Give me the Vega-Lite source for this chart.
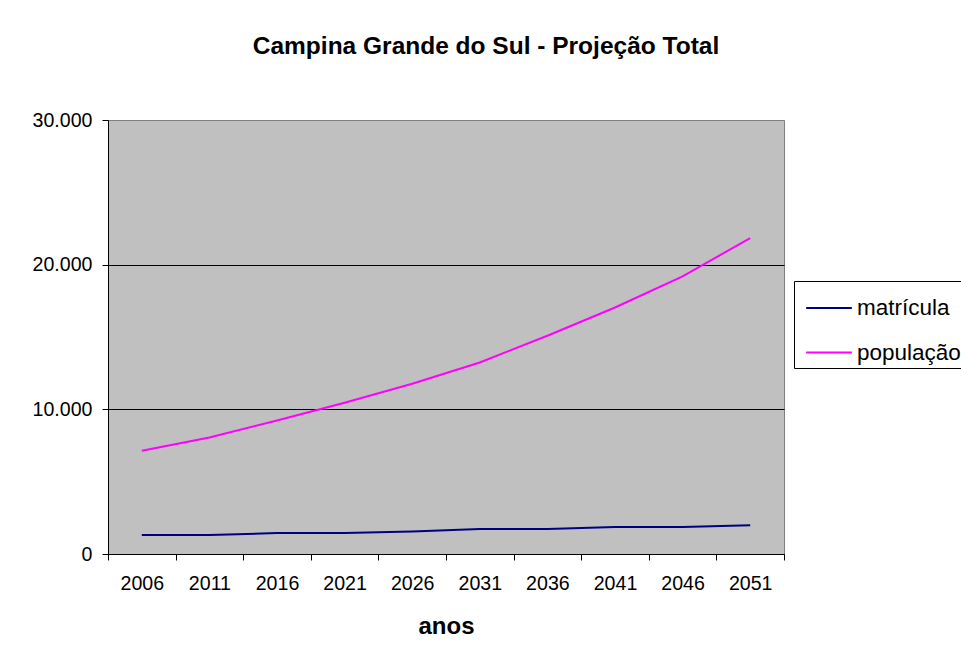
{
  "$schema": "https://vega.github.io/schema/vega-lite/v6.json",
  "autosize": {"type": "none"},
  "padding": {"left": 108, "top": 120, "right": 177, "bottom": 105},
  "width": 676,
  "height": 434,
  "background": "white",
  "title": {
    "text": "Campina Grande do Sul - Projeção Total",
    "font": "Liberation Sans",
    "fontSize": 24.5,
    "fontWeight": "bold",
    "color": "black",
    "anchor": "middle",
    "frame": "group",
    "baseline": "alphabetic",
    "dx": 40,
    "offset": 32
  },
  "data": {
    "values": [
      {"ano": "2006", "serie": "matrícula", "valor": 1310},
      {"ano": "2011", "serie": "matrícula", "valor": 1310},
      {"ano": "2016", "serie": "matrícula", "valor": 1450},
      {"ano": "2021", "serie": "matrícula", "valor": 1450},
      {"ano": "2026", "serie": "matrícula", "valor": 1560},
      {"ano": "2031", "serie": "matrícula", "valor": 1730},
      {"ano": "2036", "serie": "matrícula", "valor": 1730},
      {"ano": "2041", "serie": "matrícula", "valor": 1870},
      {"ano": "2046", "serie": "matrícula", "valor": 1870},
      {"ano": "2051", "serie": "matrícula", "valor": 1980},
      {"ano": "2006", "serie": "população", "valor": 7140},
      {"ano": "2011", "serie": "população", "valor": 8060},
      {"ano": "2016", "serie": "população", "valor": 9230},
      {"ano": "2021", "serie": "população", "valor": 10450},
      {"ano": "2026", "serie": "população", "valor": 11770},
      {"ano": "2031", "serie": "população", "valor": 13240},
      {"ano": "2036", "serie": "população", "valor": 15090},
      {"ano": "2041", "serie": "população", "valor": 17040},
      {"ano": "2046", "serie": "população", "valor": 19190},
      {"ano": "2051", "serie": "população", "valor": 21840}
    ]
  },
  "mark": {"type": "line", "strokeWidth": 2},
  "encoding": {
    "x": {
      "field": "ano",
      "type": "ordinal",
      "bandPosition": 0.5,
      "scale": {"type": "band", "paddingInner": 0, "paddingOuter": 0},
      "axis": {
        "title": "anos",
        "labelAngle": 0,
        "tickBand": "extent",
        "tickSize": 6,
        "labelPadding": 14,
        "domainColor": "black",
        "tickColor": "black",
        "labelColor": "black",
        "labelFont": "Liberation Sans",
        "labelFontSize": 19.6,
        "titleFont": "Liberation Sans",
        "titleFontSize": 24,
        "titleFontWeight": "bold",
        "titleColor": "black",
        "titlePadding": 22,
        "grid": false
      }
    },
    "y": {
      "field": "valor",
      "type": "quantitative",
      "scale": {"domain": [0, 30000]},
      "axis": {
        "title": null,
        "values": [0, 10000, 20000, 30000],
        "labelExpr": "replace(format(datum.value, ','), ',', '.')",
        "tickSize": 6,
        "labelPadding": 10,
        "domainColor": "black",
        "tickColor": "black",
        "labelColor": "black",
        "labelFont": "Liberation Sans",
        "labelFontSize": 19.6,
        "grid": true,
        "gridColor": {"condition": {"test": "datum.value == 30000", "value": "#808080"}, "value": "#000000"},
        "gridOpacity": 1
      }
    },
    "color": {
      "field": "serie",
      "type": "nominal",
      "scale": {"domain": ["matrícula", "população"], "range": ["#000080", "#FF00FF"]},
      "legend": {
        "title": null,
        "orient": "none",
        "legendX": 686,
        "legendY": 161,
        "symbolType": "stroke",
        "symbolSize": 2088,
        "symbolStrokeWidth": 2,
        "labelFont": "Liberation Sans",
        "labelFontSize": 22.5,
        "labelColor": "black",
        "labelOffset": 4,
        "labelLimit": 0,
        "padding": 3,
        "symbolOffset": 8,
        "rowPadding": 8.6,
        "strokeColor": "black",
        "fillColor": "white"
      }
    }
  },
  "config": {
    "view": {"fill": "#C0C0C0", "stroke": "#808080", "strokeWidth": 1}
  }
}
